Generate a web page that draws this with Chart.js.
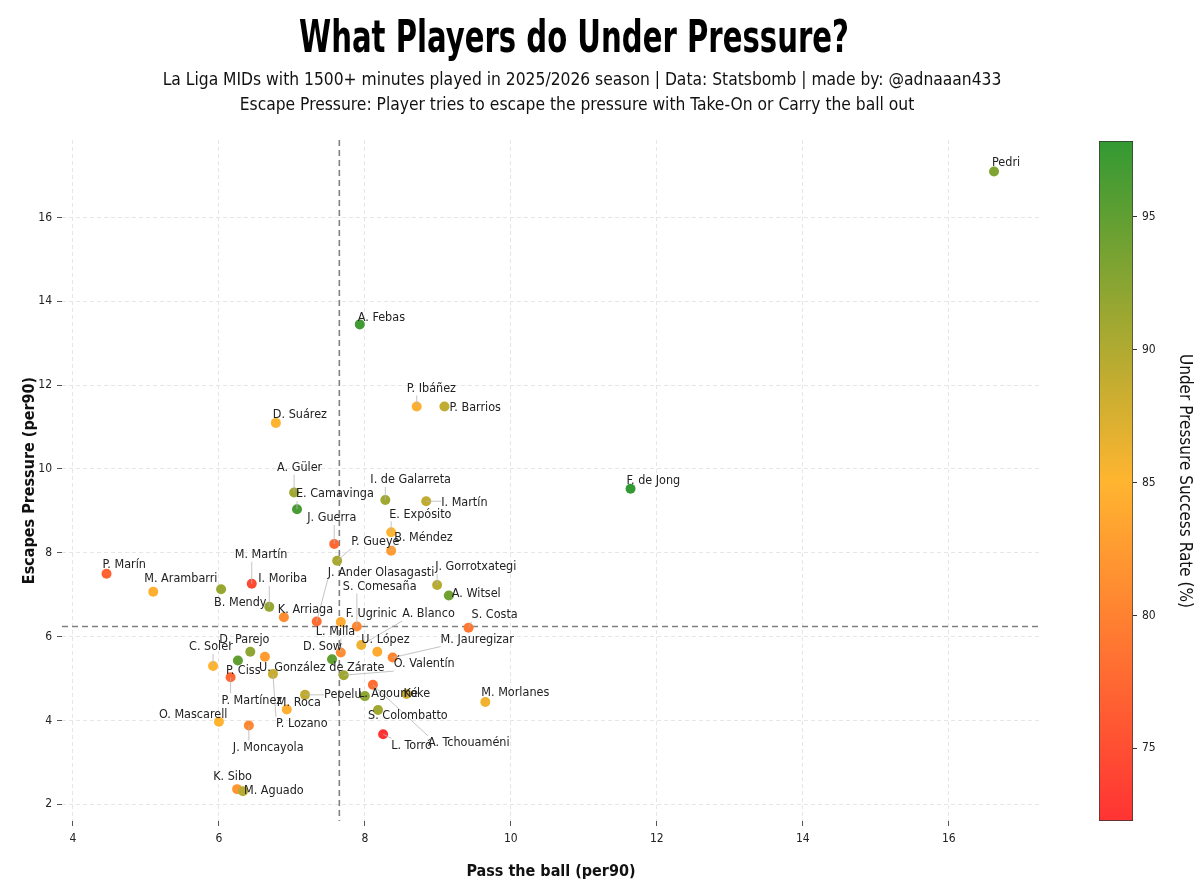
<!DOCTYPE html>
<html lang="en">
<head>
<meta charset="UTF-8">
<title>What Players do Under Pressure?</title>
<script src="https://cdn.jsdelivr.net/npm/chart.js"></script>
<style>
  body { margin: 0; background: #ffffff; }
  #wrap { position: relative; width: 1199px; height: 893px; }
  #main { position: absolute; left: 0; top: 0; }
  #bar { position: absolute; left: 1060px; top: 0; }
</style>
</head>
<body>
<div id="wrap">
  <canvas id="main" width="1199" height="893"></canvas>
  <canvas id="bar" width="139" height="893"></canvas>
</div>
<script>
// data
const players = ['Pedri', 'A. Febas', 'P. Ibáñez', 'P. Barrios', 'D. Suárez', 'F. de Jong', 'A. Güler', 'E. Camavinga',
  'J. Guerra', 'I. de Galarreta', 'I. Martín', 'E. Expósito', 'B. Méndez', 'P. Gueye', 'P. Marín', 'M. Arambarri',
  'B. Mendy', 'M. Martín', 'I. Moriba', 'K. Arriaga', 'J. Ander Olasagasti', 'F. Ugrinic', 'S. Comesaña', 'J. Gorrotxategi',
  'A. Witsel', 'S. Costa', 'C. Soler', 'P. Ciss', 'D. Parejo', 'U. González de Zárate', 'P. Lozano', 'P. Martínez',
  'Pepelu', 'M. Roca', 'O. Mascarell', 'J. Moncayola', 'D. Sow', 'L. Milla', 'Ó. Valentín', 'A. Blanco',
  'U. López', 'M. Jauregizar', 'A. Tchouaméni', 'L. Agoumé', 'Koke', 'S. Colombatto', 'L. Torró', 'M. Morlanes',
  'K. Sibo', 'M. Aguado'];
const passBall = [16.62, 7.93, 8.71, 9.09, 6.78, 11.64, 7.03, 7.07,
  7.58, 8.28, 8.84, 8.36, 8.36, 7.62, 4.46, 5.10,
  6.03, 6.45, 6.69, 6.89, 7.34, 7.67, 7.89, 8.99,
  9.15, 9.42, 5.92, 6.26, 6.43, 6.63, 6.74, 6.16,
  7.18, 6.93, 6.00, 6.41, 7.55, 7.67, 7.71, 7.95,
  8.17, 8.38, 8.11, 8.00, 8.57, 8.18, 8.25, 9.65,
  6.25, 6.33];
const escapes = [17.10, 13.45, 11.49, 11.49, 11.10, 9.53, 9.44, 9.04,
  8.21, 9.26, 9.23, 8.49, 8.05, 7.81, 7.50, 7.07,
  7.13, 7.26, 6.71, 6.46, 6.36, 6.35, 6.24, 7.23,
  6.98, 6.21, 5.30, 5.43, 5.64, 5.52, 5.11, 5.03,
  4.61, 4.26, 3.97, 3.88, 5.46, 5.62, 5.08, 5.80,
  5.64, 5.50, 4.85, 4.58, 4.63, 4.25, 3.67, 4.44,
  2.36, 2.31];
const successRate = [93.0, 97.0, 84.5, 89.0, 85.0, 97.86, 91.0, 96.5,
  77.5, 91.0, 89.0, 85.0, 82.5, 90.5, 77.0, 84.5,
  91.5, 74.5, 91.5, 81.0, 78.0, 84.0, 80.5, 89.5,
  94.0, 79.0, 85.0, 95.0, 92.0, 82.5, 88.5, 77.5,
  89.0, 84.5, 85.0, 80.5, 95.0, 81.0, 91.0, 86.0,
  84.0, 80.5, 78.0, 92.0, 88.0, 91.0, 72.26, 86.0,
  82.0, 89.5];
const xTicks = [4, 6, 8, 10, 12, 14, 16];
const yTicks = [2, 4, 6, 8, 10, 12, 14, 16];
const rateTicks = [75, 80, 85, 90, 95];
const medianPass = 7.65;
const medianEscape = 6.24;

// where each name sits relative to its dot (px): left edge, vertical centre
const labelOffset = [[-2, -9], [-2, -7], [-10, -18], [5, 1], [-3, -8], [-4, -8], [-17, -25], [-1, -15],
  [-27, -26], [-15, -20], [15, 2], [-2, -18], [3, -13], [14, -19], [-4, -9], [-9, -13],
  [-7, 13], [-17, -29], [-11, -28], [-6, -8], [11, -49], [5, -8], [-14, -40], [-2, -18],
  [3, -2], [3, -13], [-24, -19], [-12, 10], [-31, -12], [-6, 11], [3, 50], [-9, 23],
  [19, 0], [-10, -7], [-60, -7], [-16, 22], [-29, -12], [-25, -21], [50, -11], [41, -31],
  [-16, -12], [48, -18], [55, 58], [-7, -2], [-3, 0], [-10, 6], [8, 11], [-4, -9],
  [-24, -12], [1, 0]];

const NARROW = "'DejaVu Sans Condensed', 'Liberation Sans Narrow', 'Noto Sans', sans-serif";

const rateMin = Math.min(...successRate);
const rateMax = Math.max(...successRate);
const stops = [[255, 51, 51], [255, 181, 48], [51, 153, 51]];

function rateColor(v) {
  let t = (v - rateMin) / (rateMax - rateMin);
  t = Math.max(0, Math.min(1, t)) * 2;
  const i = t >= 1 ? 1 : 0;
  const f = t - i;
  const a = stops[i], b = stops[i + 1];
  const c = a.map((k, j) => Math.round(k + (b[j] - k) * f));
  return `rgb(${c[0]},${c[1]},${c[2]})`;
}

const points = passBall.map((x, i) => ({ x: x, y: escapes[i] }));

// titles at the top
const titlePlugin = {
  id: 'titles',
  afterDraw(chart) {
    const ctx = chart.ctx;
    ctx.save();
    ctx.fillStyle = '#000';
    ctx.textAlign = 'center';
    ctx.textBaseline = 'middle';
    ctx.font = `bold 45px ${NARROW}`;
    // squeeze the heading to look like the narrow display face
    ctx.save();
    ctx.translate(574, 40);
    ctx.scale(0.72, 1);
    ctx.fillText('What Players do Under Pressure?', 0, 0);
    ctx.restore();
    ctx.fillStyle = '#111';
    ctx.font = `17.3px ${NARROW}`;
    ctx.fillText('La Liga MIDs with 1500+ minutes played in 2025/2026 season | Data: Statsbomb | made by: @adnaaan433', 582, 81);
    ctx.fillText('Escape Pressure: Player tries to escape the pressure with Take-On or Carry the ball out', 577, 106);
    ctx.restore();
  }
};

// dashed median lines
const medianPlugin = {
  id: 'medians',
  beforeDatasetsDraw(chart) {
    const { ctx, chartArea, scales } = chart;
    const px = scales.x.getPixelForValue(medianPass);
    const py = scales.y.getPixelForValue(medianEscape);
    ctx.save();
    ctx.strokeStyle = '#808080';
    ctx.lineWidth = 1.6;
    ctx.setLineDash([6, 4]);
    ctx.beginPath();
    ctx.moveTo(px, chartArea.top);
    ctx.lineTo(px, chartArea.bottom);
    ctx.moveTo(chartArea.left, py);
    ctx.lineTo(chartArea.right, py);
    ctx.stroke();
    ctx.restore();
  }
};

// player names with leader lines
const namePlugin = {
  id: 'names',
  afterDatasetsDraw(chart) {
    const ctx = chart.ctx;
    const meta = chart.getDatasetMeta(0);
    ctx.save();
    ctx.font = `12.5px ${NARROW}`;
    ctx.textBaseline = 'middle';
    ctx.textAlign = 'left';
    meta.data.forEach((el, i) => {
      const [dx, dy] = labelOffset[i];
      const w = ctx.measureText(players[i]).width;
      const lx = el.x + dx, ly = el.y + dy;
      const bx = Math.max(lx, Math.min(el.x, lx + w));
      const by = Math.max(ly - 7, Math.min(el.y, ly + 7));
      if (Math.hypot(bx - el.x, by - el.y) > 6) {
        ctx.strokeStyle = '#b5b5b5';
        ctx.lineWidth = 0.8;
        ctx.beginPath();
        ctx.moveTo(el.x, el.y);
        ctx.lineTo(bx, by);
        ctx.stroke();
      }
    });
    ctx.fillStyle = '#222';
    meta.data.forEach((el, i) => {
      const [dx, dy] = labelOffset[i];
      ctx.fillText(players[i], el.x + dx, el.y + dy);
    });
    ctx.restore();
  }
};

new Chart(document.getElementById('main'), {
  type: 'scatter',
  data: {
    datasets: [{
      data: points,
      backgroundColor: successRate.map(rateColor),
      borderWidth: 0,
      pointRadius: 5,
      pointHoverRadius: 5
    }]
  },
  options: {
    responsive: false,
    animation: false,
    events: [],
    layout: { padding: { top: 140, right: 159, left: 0, bottom: 0 } },
    plugins: { legend: { display: false }, tooltip: { enabled: false } },
    scales: {
      x: {
        type: 'linear',
        min: 3.85,
        max: 17.25,
        afterBuildTicks: s => { s.ticks = xTicks.map(v => ({ value: v })); },
        afterFit: s => { s.height = 72; },
        grid: { color: '#e6e6e6', lineWidth: 1, tickLength: 5, tickColor: '#555', tickWidth: 1 },
        border: { display: false, dash: [4, 3] },
        ticks: { color: '#222', padding: 6, font: { family: NARROW, size: 12 } },
        title: {
          display: true, text: 'Pass the ball (per90)', color: '#111',
          font: { family: NARROW, size: 16, weight: 'bold' }, padding: { top: 4, bottom: 12 }
        }
      },
      y: {
        type: 'linear',
        min: 1.6,
        max: 17.85,
        afterBuildTicks: s => { s.ticks = yTicks.map(v => ({ value: v })); },
        afterFit: s => { s.width = 62; },
        grid: { color: '#e6e6e6', lineWidth: 1, tickLength: 5, tickColor: '#555', tickWidth: 1 },
        border: { display: false, dash: [4, 3] },
        ticks: { color: '#222', padding: 5, font: { family: NARROW, size: 12 } },
        title: {
          display: true, text: 'Escapes Pressure (per90)', color: '#111',
          font: { family: NARROW, size: 16, weight: 'bold' }, padding: { top: 20, bottom: 4 }
        }
      }
    }
  },
  plugins: [titlePlugin, medianPlugin, namePlugin]
});

// colour bar
new Chart(document.getElementById('bar'), {
  type: 'bar',
  data: {
    labels: [''],
    datasets: [{
      data: [[rateMin, rateMax]],
      backgroundColor: c => {
        const area = c.chart.chartArea;
        if (!area) return rateColor((rateMin + rateMax) / 2);
        const g = c.chart.ctx.createLinearGradient(0, area.bottom, 0, area.top);
        g.addColorStop(0, rateColor(rateMin));
        g.addColorStop(0.5, rateColor((rateMin + rateMax) / 2));
        g.addColorStop(1, rateColor(rateMax));
        return g;
      },
      borderColor: '#333',
      borderWidth: 1,
      borderSkipped: false,
      barPercentage: 1,
      categoryPercentage: 1
    }]
  },
  options: {
    responsive: false,
    animation: false,
    events: [],
    layout: { padding: { top: 141, bottom: 72, left: 39, right: 0 } },
    plugins: { legend: { display: false }, tooltip: { enabled: false } },
    scales: {
      x: { display: false },
      y: {
        position: 'right',
        min: rateMin,
        max: rateMax,
        afterBuildTicks: s => { s.ticks = rateTicks.map(v => ({ value: v })); },
        afterFit: s => { s.width = 66; },
        grid: { drawOnChartArea: false, tickLength: 4, tickColor: '#333' },
        border: { display: false },
        ticks: { color: '#222', padding: 5, font: { family: NARROW, size: 12 } },
        title: {
          display: true, text: 'Under Pressure Success Rate (%)', color: '#111',
          font: { family: NARROW, size: 17 }, padding: { top: 4, bottom: 4 }
        }
      }
    }
  }
});
</script>
</body>
</html>
